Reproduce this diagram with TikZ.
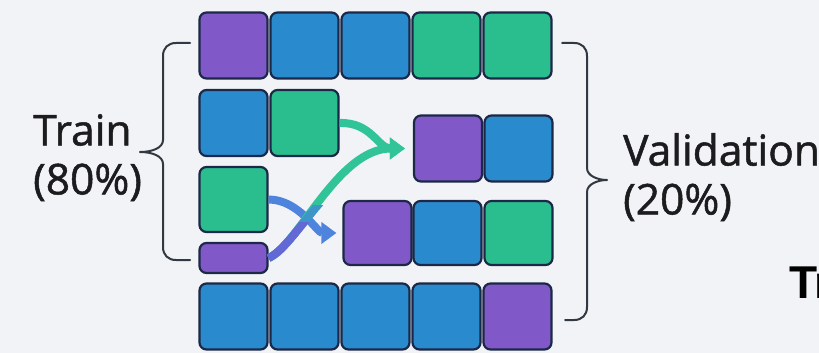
\documentclass[tikz,border=0pt]{standalone}
\usepackage{fontspec}
\setmainfont{Open Sans}
\newfontfamily\lblfont{Open Sans}[UprightFeatures={FakeBold=1.2}]
\newfontfamily\trfont{Liberation Sans}
\usetikzlibrary{arrows.meta}
\definecolor{bgc}{RGB}{242,243,246}
\definecolor{cpur}{RGB}{128,88,200}
\definecolor{cblu}{RGB}{42,138,206}
\definecolor{cgrn}{RGB}{42,190,142}
\definecolor{cedge}{RGB}{28,40,72}
\definecolor{agrn}{RGB}{48,196,152}
\definecolor{ablu}{RGB}{78,132,222}
\definecolor{apur}{RGB}{98,104,214}
\definecolor{amid}{RGB}{62,150,200}
\definecolor{brc}{RGB}{50,56,66}
\definecolor{txt}{RGB}{28,28,30}
\tikzset{
  cell/.style={draw=cedge, line width=2.2pt, rounded corners=7pt, inner sep=0pt,
    minimum width=68pt, minimum height=66pt},
  pur/.style={cell, fill=cpur},
  blu/.style={cell, fill=cblu},
  grn/.style={cell, fill=cgrn},
  brace/.style={draw=brc, line width=2pt, line cap=round, line join=round},
  flow/.style={line width=8pt, -{Triangle[width=21pt,length=15pt]}},
  lbl/.style={font=\lblfont\fontsize{42.5}{49}\selectfont, text=txt, inner sep=0pt, align=left}
}
\begin{document}
\begin{tikzpicture}[x=1pt,y=-1pt]
\fill[bgc] (0,0) rectangle (819,353);
\useasboundingbox (0,0) rectangle (819,353);
\clip (0,0) rectangle (819,353);
% row 1
\node[pur] (a1) at (233.5,45.5) {};
\node[blu] (a2) at (304.5,45.5) {};
\node[blu] (a3) at (375.5,45.5) {};
\node[grn] (a4) at (446.5,45.5) {};
\node[grn] (a5) at (517.5,45.5) {};
% row 2 left
\node[blu] (b1) at (233.5,123) {};
\node[grn] (b2) at (304.5,123) {};
% validation block 1
\node[pur] (v1) at (448,148.5) {};
\node[blu] (v2) at (518.5,148.5) {};
% row 3 left
\node[grn, minimum height=65pt] (c1) at (233.5,199.5) {};
\node[pur, minimum height=30pt] (s1) at (233.5,258) {};
% validation block 2
\node[pur, minimum height=64pt] (w1) at (377.5,233) {};
\node[blu, minimum height=64pt] (w2) at (447.5,233) {};
\node[grn, minimum height=64pt] (w3) at (518.5,233) {};
% bottom row
\node[blu] (d1) at (233.5,316.5) {};
\node[blu] (d2) at (304.5,316.5) {};
\node[blu] (d3) at (375.5,316.5) {};
\node[blu] (d4) at (446.5,316.5) {};
\node[pur] (d5) at (517.5,316.5) {};
% arrows
\draw[flow, ablu, shorten >=6pt] (c1.east) .. controls +(30,0) and +(-25,0) .. (w1.west);
\draw[flow, agrn, shorten >=8pt] (b2.east) .. controls +(32,-1) and +(-35,0) .. (v1.west);
\draw[flow, agrn, shorten >=8pt] (s1.east) .. controls +(30,-13) and +(-75,0) .. (v1.west);
\begin{scope}
\clip (250,205) rectangle (330,275);
\draw[line width=8pt, amid] (s1.east) .. controls +(30,-13) and +(-75,0) .. (v1.west);
\end{scope}
\begin{scope}
\clip (250,222) rectangle (330,275);
\draw[line width=8pt, apur] (s1.east) .. controls +(30,-13) and +(-75,0) .. (v1.west);
\end{scope}
% braces
\coordinate (lt) at (190,43);
\coordinate (lb) at (190,260);
\coordinate (ltip) at (140,152);
\draw[brace] (lt) -- (176,43) .. controls (168,43) and (163,48) .. (163,56)
  -- (163,140) .. controls (163,148) and (152,152) .. (ltip)
  .. controls (152,152) and (163,156) .. (163,164)
  -- (163,247) .. controls (163,255) and (168,260) .. (176,260) -- (lb);
\coordinate (rt) at (562,43);
\coordinate (rb) at (565,320);
\coordinate (rtip) at (607,180);
\draw[brace] (rt) -- (574,43) .. controls (582,43) and (587,48) .. (587,56)
  -- (587,168) .. controls (587,176) and (598,180) .. (rtip)
  .. controls (598,180) and (587,184) .. (587,192)
  -- (587,307) .. controls (587,315) and (582,320) .. (574,320) -- (rb);
% labels
\node[lbl, anchor=north west] (train) at (33,114) {Train\\(80\%)};
\node[lbl, anchor=north west] (val) at (623,133) {Validation\\(20\%)};
\node[anchor=base west, inner sep=0pt, text=black, font=\trfont\bfseries\fontsize{46}{50}\selectfont] (tr) at (789,298) {Tr};
\end{tikzpicture}
\end{document}
